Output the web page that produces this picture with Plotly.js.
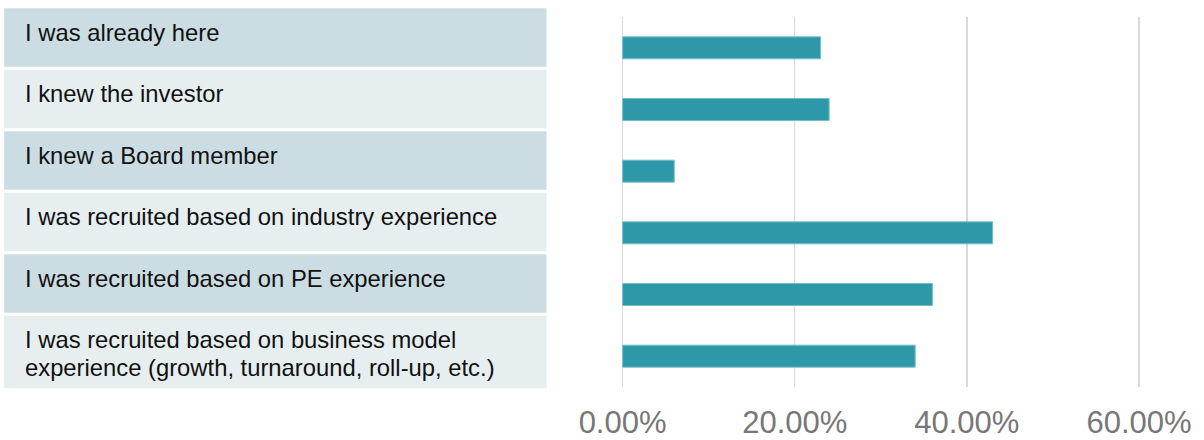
<!DOCTYPE html>
<html>
<head>
<meta charset="utf-8">
<script src="https://cdn.plot.ly/plotly-3.0.1.min.js"></script>
<style>
  html, body { margin: 0; padding: 0; background: #ffffff; }
  #chart { width: 1204px; height: 440px; }
</style>
</head>
<body>
<div id="chart"></div>
<script>
// ---- data ----
const categories = [
  "I was already here",
  "I knew the investor",
  "I knew a Board member",
  "I was recruited based on industry experience",
  "I was recruited based on PE experience",
  "I was recruited based on business model<br>experience (growth, turnaround, roll-up, etc.)"
];
const shares = [0.23, 0.24, 0.06, 0.43, 0.36, 0.34];
const tickValues = [0, 0.2, 0.4, 0.6];
const tickLabels = ["0.00%", "20.00%", "40.00%", "60.00%"];

// ---- layout geometry ----
const W = 1204, H = 440;
const xMin = -0.003, xMax = 0.65;
const pxPerUnit = 860;
const zeroPx = 623;
const M = { l: zeroPx + xMin * pxPerUnit, t: 17, b: 53 };
M.r = W - M.l - (xMax - xMin) * pxPerUnit;
const plotW = W - M.l - M.r;
const plotH = H - M.t - M.b;
const px2x = x => (x - M.l) / plotW;
const px2y = y => (H - M.b - y) / plotH;

const tableLeft = 5, tableRight = 547;
const firstRowTop = 8.3, rowPitch = 61.5, rowH = 58.4, lastRowBottom = 388.3;
const textLeft = 24, firstLineOffset = 24, lineStep = 27.3;
const darkBg = "#cbdde2", lightBg = "#e6eef0";

const shapes = [];
const annotations = [];
categories.forEach((cat, i) => {
  const top = firstRowTop + i * rowPitch;
  const bottom = (i === categories.length - 1) ? lastRowBottom : top + rowH;
  shapes.push({
    type: "rect", xref: "paper", yref: "paper",
    x0: px2x(tableLeft), x1: px2x(tableRight),
    y0: px2y(bottom), y1: px2y(top),
    fillcolor: i % 2 === 0 ? darkBg : lightBg,
    line: { width: 0 }, layer: "below"
  });
  cat.split("<br>").forEach((line, k) => {
    annotations.push({
      xref: "paper", yref: "paper",
      x: px2x(textLeft), y: px2y(top + firstLineOffset + k * lineStep),
      xanchor: "left", yanchor: "middle",
      text: line, showarrow: false,
      font: { family: "Liberation Sans, Arial, sans-serif", size: 23.8, color: "#111111" }
    });
  });
});

const trace = {
  type: "bar",
  orientation: "h",
  x: shares,
  y: categories,
  marker: { color: "#2f98a8", line: { color: "#74c0ca", width: 1 } },
  hoverinfo: "x+y"
};

const layout = {
  width: W, height: H,
  margin: M,
  paper_bgcolor: "#ffffff",
  plot_bgcolor: "rgba(0,0,0,0)",
  showlegend: false,
  bargap: 0.643,
  xaxis: {
    range: [xMin, xMax],
    tickvals: tickValues,
    ticktext: tickLabels,
    showgrid: true,
    gridcolor: "#d9d9d9",
    gridwidth: 1.5,
    zeroline: false,
    showline: false,
    ticks: "outside",
    ticklen: 8,
    tickcolor: "rgba(0,0,0,0)",
    tickfont: { family: "Liberation Sans, Arial, sans-serif", size: 31, color: "#777777" },
    fixedrange: true
  },
  yaxis: {
    type: "category",
    autorange: "reversed",
    showticklabels: false,
    showgrid: false,
    zeroline: false,
    showline: false,
    ticks: "",
    fixedrange: true
  },
  shapes: shapes,
  annotations: annotations
};

Plotly.newPlot("chart", [trace], layout, { displayModeBar: false, staticPlot: true });
</script>
</body>
</html>
